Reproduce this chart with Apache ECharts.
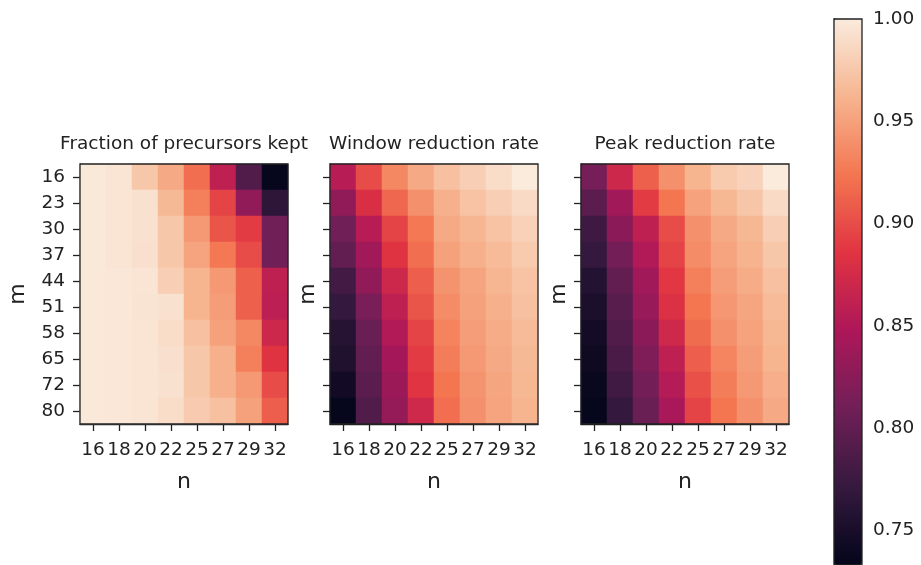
<!DOCTYPE html>
<html>
<head>
<meta charset="utf-8">
<script src="https://cdn.jsdelivr.net/npm/echarts@6/dist/echarts.min.js"></script>
<style>
  html, body { margin: 0; padding: 0; background: #fff; }
  #main { width: 921px; height: 565px; }
</style>
</head>
<body>
<div id="main"></div>
<script>
// columns = n, rows = m (top to bottom)
var nLabels = ['16', '18', '20', '22', '25', '27', '29', '32'];
var mLabels = ['16', '23', '30', '37', '44', '51', '58', '65', '72', '80'];

var fracKept = [
    [0.998, 0.996, 0.975, 0.955, 0.920, 0.860, 0.790, 0.735],
    [0.998, 0.996, 0.993, 0.965, 0.930, 0.895, 0.830, 0.765],
    [0.998, 0.996, 0.993, 0.975, 0.945, 0.905, 0.890, 0.810],
    [0.998, 0.996, 0.992, 0.975, 0.952, 0.925, 0.900, 0.810],
    [0.998, 0.997, 0.996, 0.980, 0.962, 0.945, 0.912, 0.860],
    [0.998, 0.997, 0.995, 0.993, 0.962, 0.948, 0.912, 0.858],
    [0.998, 0.997, 0.996, 0.990, 0.970, 0.950, 0.935, 0.870],
    [0.998, 0.997, 0.996, 0.992, 0.975, 0.960, 0.930, 0.885],
    [0.998, 0.997, 0.996, 0.993, 0.975, 0.960, 0.945, 0.900],
    [0.998, 0.997, 0.996, 0.990, 0.978, 0.970, 0.950, 0.910]
];

var windowRate = [
    [0.855, 0.900, 0.935, 0.955, 0.970, 0.980, 0.990, 1.000],
    [0.830, 0.880, 0.915, 0.940, 0.960, 0.972, 0.980, 0.988],
    [0.810, 0.855, 0.895, 0.925, 0.955, 0.963, 0.972, 0.982],
    [0.800, 0.840, 0.885, 0.920, 0.950, 0.960, 0.967, 0.977],
    [0.780, 0.830, 0.870, 0.910, 0.942, 0.952, 0.963, 0.972],
    [0.770, 0.815, 0.860, 0.905, 0.937, 0.950, 0.960, 0.970],
    [0.760, 0.805, 0.850, 0.895, 0.932, 0.948, 0.957, 0.967],
    [0.755, 0.800, 0.842, 0.890, 0.928, 0.945, 0.955, 0.965],
    [0.745, 0.795, 0.837, 0.886, 0.924, 0.942, 0.953, 0.964],
    [0.735, 0.790, 0.832, 0.872, 0.920, 0.940, 0.952, 0.962]
];

var peakRate = [
    [0.813, 0.870, 0.912, 0.940, 0.962, 0.977, 0.983, 1.000],
    [0.795, 0.840, 0.890, 0.924, 0.951, 0.964, 0.974, 0.988],
    [0.777, 0.826, 0.860, 0.900, 0.940, 0.955, 0.964, 0.980],
    [0.770, 0.812, 0.850, 0.895, 0.937, 0.952, 0.961, 0.975],
    [0.758, 0.800, 0.840, 0.888, 0.930, 0.948, 0.957, 0.970],
    [0.752, 0.794, 0.835, 0.882, 0.924, 0.944, 0.953, 0.967],
    [0.746, 0.789, 0.826, 0.872, 0.918, 0.940, 0.951, 0.964],
    [0.742, 0.784, 0.818, 0.860, 0.910, 0.933, 0.948, 0.962],
    [0.738, 0.778, 0.812, 0.853, 0.902, 0.928, 0.945, 0.959],
    [0.735, 0.770, 0.805, 0.845, 0.895, 0.924, 0.940, 0.955]
];

var titles = ['Fraction of precursors kept', 'Window reduction rate', 'Peak reduction rate'];
var colorbarTicks = [0.75, 0.80, 0.85, 0.90, 0.95, 1.00];

// rocket colormap
var rocket = ['#03051a', '#35193e', '#701f57', '#ad1759', '#e13342', '#f37651', '#f6b48f', '#faebdd'];

function toCells(rows) {
    var out = [];
    rows.forEach(function (row, r) {
        row.forEach(function (v, c) {
            out.push([c, r, v]);
        });
    });
    return out;
}

var font = 'DejaVu Sans';
var ink = '#222';
var panelLeft = [80, 330, 581];
var panels = [fracKept, windowRate, peakRate];

var grids = [], xAxes = [], yAxes = [], series = [], titleOpts = [];

panels.forEach(function (p, i) {
    grids.push({
        left: panelLeft[i], top: 164, width: 208, height: 260,
        show: true, borderColor: ink, borderWidth: 1.3, z: 10
    });
    titleOpts.push({
        text: titles[i],
        left: panelLeft[i] + 104, top: 135, textAlign: 'center', padding: 0,
        textStyle: { fontFamily: font, fontSize: 18.5, fontWeight: 'normal', color: ink }
    });
    xAxes.push({
        type: 'category', gridIndex: i, data: nLabels,
        name: 'n', nameLocation: 'middle', nameGap: 47,
        nameTextStyle: { fontFamily: font, fontSize: 22, color: ink },
        axisLine: { show: true, lineStyle: { color: ink, width: 1.3 } },
        axisTick: { show: true, alignWithLabel: true, length: 7, lineStyle: { color: ink, width: 1.3 } },
        axisLabel: { show: true, interval: 0, margin: 17, fontFamily: font, fontSize: 18.5, color: ink },
        splitLine: { show: false }
    });
    yAxes.push({
        type: 'category', gridIndex: i, data: mLabels, inverse: true,
        name: 'm', nameLocation: 'middle', nameGap: i === 0 ? 51 : 11,
        nameTextStyle: { fontFamily: font, fontSize: 22, color: ink },
        axisLine: { show: true, lineStyle: { color: ink, width: 1.3 } },
        axisTick: { show: true, alignWithLabel: true, length: 7, lineStyle: { color: ink, width: 1.3 } },
        axisLabel: { show: i === 0, interval: 0, margin: 15, fontFamily: font, fontSize: 18.5, color: ink },
        splitLine: { show: false }
    });
    series.push({
        type: 'heatmap', xAxisIndex: i, yAxisIndex: i,
        data: toCells(p),
        itemStyle: { borderWidth: 0 },
        emphasis: { disabled: true }
    });
});

// colorbar axis
grids.push({
    left: 834, top: 19, width: 28, height: 546,
    show: true, borderColor: ink, borderWidth: 1.3, z: 10
});
xAxes.push({ type: 'value', gridIndex: 3, show: false });
yAxes.push({
    type: 'value', gridIndex: 3, position: 'right', min: 0.733, max: 1.0,
    axisLine: { show: true, lineStyle: { color: ink, width: 1.3 } },
    axisTick: { show: true, length: 7, customValues: colorbarTicks, lineStyle: { color: ink, width: 1.3 } },
    axisLabel: {
        show: true, margin: 11, fontFamily: font, fontSize: 18.5, color: ink, customValues: colorbarTicks,
        formatter: function (v) { return v.toFixed(2); }
    },
    splitLine: { show: false }
});

var myChart = echarts.init(document.getElementById('main'));
myChart.setOption({
    animation: false,
    backgroundColor: '#fff',
    title: titleOpts,
    grid: grids,
    xAxis: xAxes,
    yAxis: yAxes,
    visualMap: {
        type: 'continuous', min: 0.733, max: 1.0,
        seriesIndex: [0, 1, 2],
        calculable: false, orient: 'vertical',
        left: 834, top: 19, padding: 0,
        itemWidth: 28, itemHeight: 546,
        text: null,
        inRange: { color: rocket }
    },
    series: series
});
</script>
</body>
</html>
